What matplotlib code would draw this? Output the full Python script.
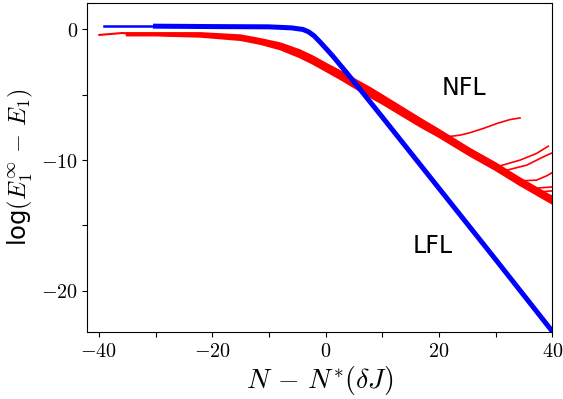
import numpy as np
import matplotlib
matplotlib.use("Agg")
import matplotlib.pyplot as plt
from matplotlib.ticker import MultipleLocator, FuncFormatter

plt.rcParams["mathtext.fontset"] = "cm"

# blue curve (LFL)
blue_x = [-39, -30, -20, -10, -6, -4, -3, -2, -1, 0, 1.3, 2.5, 3.7, 5, 10, 20, 30, 40]
blue_y = [0.25, 0.25, 0.22, 0.2, 0.12, 0.0, -0.18, -0.5, -0.95, -1.42, -2.05, -2.68,
          -3.3, -4.0, -6.7, -12.15, -17.6, -23.1]

# red band (NFL), several curves on a common grid
red_x = [-35, -30, -22, -15, -11.5, -8, -4.6, -2.3, 0, 2.7, 5.4, 7.8, 10,
         16.6, 20, 25.4, 30, 34.3, 40]
red_top = [-0.3, -0.3, -0.3, -0.47, -0.75, -1.08, -1.6, -2.07, -2.62, -3.24,
           -3.9, -4.48, -5.06, -6.82, -7.7, -9.14, -10.26, -11.41, -12.83]
red_mid_up = [-0.34, -0.34, -0.36, -0.55, -0.84, -1.19, -1.73, -2.2, -2.75, -3.38,
              -4.05, -4.64, -5.21, -6.96, -7.83, -9.26, -10.38, -11.53, -12.95]
red_mid = [-0.37, -0.37, -0.42, -0.63, -0.92, -1.29, -1.85, -2.33, -2.88, -3.52,
           -4.2, -4.8, -5.36, -7.1, -7.95, -9.38, -10.5, -11.65, -13.07]
red_mid_lo = [-0.4, -0.4, -0.48, -0.71, -1.0, -1.39, -1.97, -2.46, -3.01, -3.66,
              -4.35, -4.96, -5.51, -7.24, -8.07, -9.5, -10.62, -11.77, -13.19]
red_bot = [-0.44, -0.44, -0.54, -0.79, -1.09, -1.5, -2.1, -2.59, -3.14, -3.8,
           -4.5, -5.12, -5.66, -7.38, -8.2, -9.62, -10.74, -11.89, -13.31]
red_start_x = [-39.9, -35.8]
red_start_y = [-0.42, -0.27]

# curves leaving the band at the right
tails = [
    ([21.3, 23.7, 25.4, 27.8, 30.2, 32.5, 34.3], [-8.22, -8.09, -7.91, -7.58, -7.2, -6.9, -6.77]),
    ([30.2, 34.3, 37.2, 39.3], [-10.51, -10.0, -9.49, -8.93]),
    ([31.3, 35.5, 38.4, 40.0], [-10.84, -10.38, -9.75, -9.44]),
    ([33.7, 37.2, 39.0, 40.0], [-11.6, -11.53, -11.2, -10.95]),
    ([36.0, 38.4, 40.0], [-12.2, -12.1, -12.05]),
    ([37.2, 40.0], [-12.45, -12.35]),
    ([38.4, 40.0], [-12.86, -12.7]),
]

fig = plt.figure(figsize=(5.63, 3.99), dpi=100)
ax = fig.add_axes([0.1554, 0.1679, 0.8256, 0.8238])

ax.plot(red_start_x + [red_x[0]], red_start_y + [red_top[0]], color="red", lw=1.5)
for ys in [red_top, red_mid_up, red_mid, red_mid_lo, red_bot]:
    ax.plot(red_x, ys, color="red", lw=1.8)
for tx, ty in tails:
    ax.plot(tx, ty, color="red", lw=1.2)

ax.plot(blue_x[:2], blue_y[:2], color="blue", lw=1.8)
ax.plot(blue_x[1:], blue_y[1:], color="blue", lw=3.6)

ax.text(20.4, -5.04, "NFL", fontsize=17)
ax.text(15.3, -17.1, "LFL", fontsize=17)

ax.set_xlim(-42, 40)
ax.set_ylim(-23.15, 2.0)
ax.xaxis.set_major_locator(MultipleLocator(20))
ax.xaxis.set_minor_locator(MultipleLocator(10))
ax.yaxis.set_major_locator(MultipleLocator(10))
ax.yaxis.set_minor_locator(MultipleLocator(5))
fmt = FuncFormatter(lambda v, p: r"$%d$" % round(v))
ax.xaxis.set_major_formatter(fmt)
ax.yaxis.set_major_formatter(fmt)
ax.tick_params(which="both", length=3.5, width=0.8, labelsize=14.5)

ax.set_xlabel(r"$N\,-\,N^{*}(\delta J)$", fontsize=20, labelpad=2)
ax.set_ylabel(r"log$(E_1^{\infty}\,-\,E_1)$", fontsize=17.5, labelpad=4)

fig.savefig("out.png", dpi=100)
